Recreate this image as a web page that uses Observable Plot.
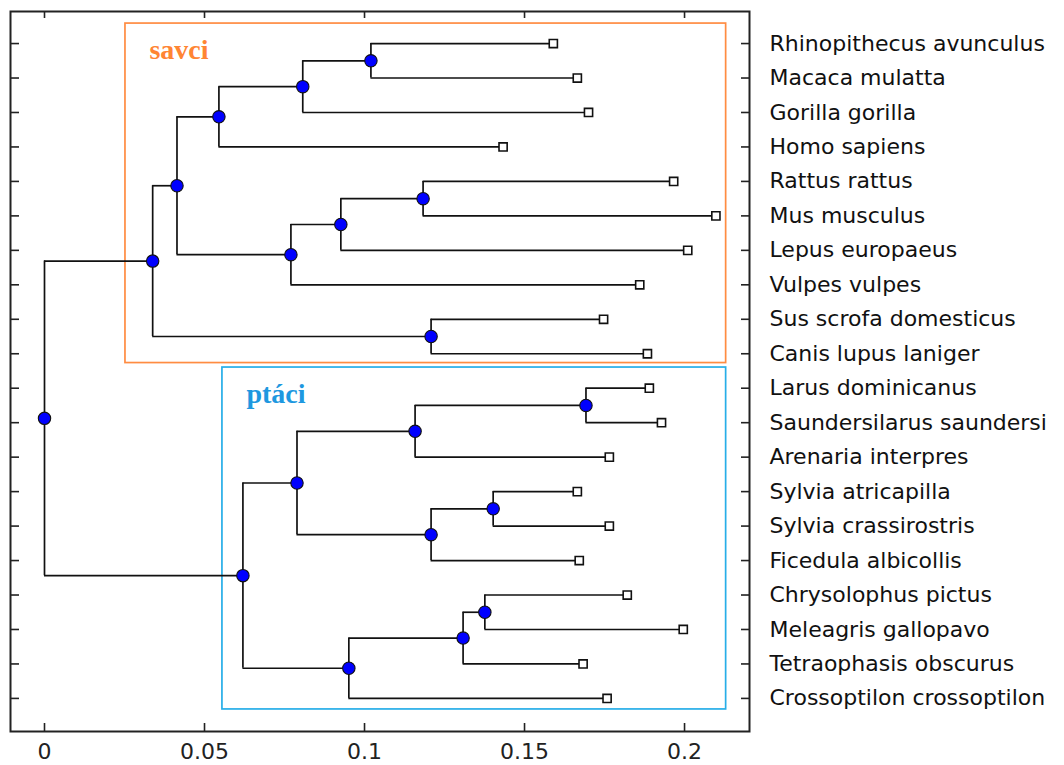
<!DOCTYPE html>
<html><head><meta charset="utf-8">
<script src="https://cdn.jsdelivr.net/npm/d3@7"></script>
<script src="https://cdn.jsdelivr.net/npm/@observablehq/plot@0.6"></script>
<style>body{margin:0;background:#fff;}</style>
</head><body><div id="chart"></div>
<script>
const leafNames = ["Rhinopithecus avunculus","Macaca mulatta","Gorilla gorilla","Homo sapiens","Rattus rattus","Mus musculus","Lepus europaeus","Vulpes vulpes","Sus scrofa domesticus","Canis lupus laniger","Larus dominicanus","Saundersilarus saundersi","Arenaria interpres","Sylvia atricapilla","Sylvia crassirostris","Ficedula albicollis","Chrysolophus pictus","Meleagris gallopavo","Tetraophasis obscurus","Crossoptilon crossoptilon"];
const leafDist = [0.159,0.1665,0.170,0.1433,0.1966,0.2098,0.201,0.186,0.1747,0.1884,0.189,0.1928,0.1765,0.1665,0.1765,0.1671,0.1821,0.1996,0.1683,0.1758];
// merges: children refer to leaves (0..19) or earlier merges (20 + k)
const mergeLeft  = [0,20,21,4,23,24,22,8,26,10,29,13,31,30,16,34,35,33,28];
const mergeRight = [1,2,3,5,6,7,25,9,27,11,12,14,15,32,17,18,19,36,37];
const mergeDist  = [0.102,0.0807,0.0545,0.1183,0.0926,0.077,0.0414,0.1208,0.0338,0.1692,0.1158,0.1402,0.1208,0.0789,0.1376,0.1308,0.0951,0.062,0];
const xTicks = [0,0.05,0.1,0.15,0.2];
const xTickLabels = ["0","0.05","0.1","0.15","0.2"];
const groupNames = ["savci","ptáci"];
const groupX1 = [0.0253,0.0556];
const groupX2 = [0.213,0.213];
const groupTop = [0.42,10.40];
const groupBottom = [10.27,20.32];

const boxColors = ["#ff8c42","#27aee8"];
const textColors = ["#ff8533","#1e98e0"];

const nodes = leafNames.map((n,i)=>({x:leafDist[i], y:i+1, name:n}));
mergeDist.forEach((d,k)=>{
  const a = nodes[mergeLeft[k]], b = nodes[mergeRight[k]];
  nodes.push({x:d, y:(a.y+b.y)/2});
});
const internal = nodes.slice(leafNames.length);
const verticals = mergeDist.map((d,k)=>({x:d, y1:nodes[mergeLeft[k]].y, y2:nodes[mergeRight[k]].y}));
const horizontals = mergeDist.flatMap((d,k)=>[mergeLeft[k],mergeRight[k]].map(c=>({y:nodes[c].y, x1:d, x2:nodes[c].x})));
const leaves = nodes.slice(0,leafNames.length);
const groups = groupNames.map((g,i)=>({g, x1:groupX1[i], x2:groupX2[i], y1:groupTop[i], y2:groupBottom[i]}));

const chart = Plot.plot({
  width:1064, height:765,
  marginLeft:10, marginRight:315, marginTop:11, marginBottom:34,
  x:{domain:[-0.010625,0.2203]},
  y:{domain:[0.07,20.96], reverse:true},
  color:{domain:groupNames, range:boxColors},
  style:{fontFamily:"DejaVu Sans", fontSize:"22px", background:"#fff", color:"#111"},
  marks:[
    Plot.rect(groups,{x1:"x1",x2:"x2",y1:"y1",y2:"y2",stroke:"g",fill:"none",strokeWidth:1.7}),
    Plot.text(groups,{x:"x1",y:"y1",text:"g",fill:(d,i)=>textColors[i],textAnchor:"start",lineAnchor:"top",dx:24,dy:16,fontFamily:"Liberation Serif",fontWeight:"bold",fontSize:28}),
    Plot.ruleX(verticals,{x:"x",y1:"y1",y2:"y2",stroke:"#111",strokeWidth:1.7}),
    Plot.ruleY(horizontals,{y:"y",x1:"x1",x2:"x2",stroke:"#111",strokeWidth:1.7}),
    Plot.dot(leaves,{x:"x",y:"y",symbol:"square",r:4.6,fill:"#fff",stroke:"#111",strokeWidth:1.6}),
    Plot.dot(internal,{x:"x",y:"y",r:6.2,fill:"#0000ff",stroke:"#111",strokeWidth:1.1}),
    Plot.frame({stroke:"#222",strokeWidth:2}),
    Plot.axisX(xTicks,{anchor:"bottom",tickSize:-8,tickPadding:20,tickFormat:(d,i)=>xTickLabels[xTicks.indexOf(d)],label:null,stroke:"#222",strokeWidth:1.6,fill:"#222"}),
    Plot.axisX(xTicks,{anchor:"top",tickSize:-6,tickFormat:()=>"",label:null,stroke:"#222",strokeWidth:1.6}),
    Plot.axisY(d3.range(1,leafNames.length+1),{anchor:"left",tickSize:-9,tickFormat:()=>"",label:null,stroke:"#222",strokeWidth:1.6}),
    Plot.axisY(d3.range(1,leafNames.length+1),{anchor:"right",tickSize:-9,tickPadding:29,tickFormat:i=>leafNames[i-1],label:null,stroke:"#222",strokeWidth:1.6,fill:"#111"})
  ]
});
document.getElementById("chart").appendChild(chart);
</script>
</body></html>
